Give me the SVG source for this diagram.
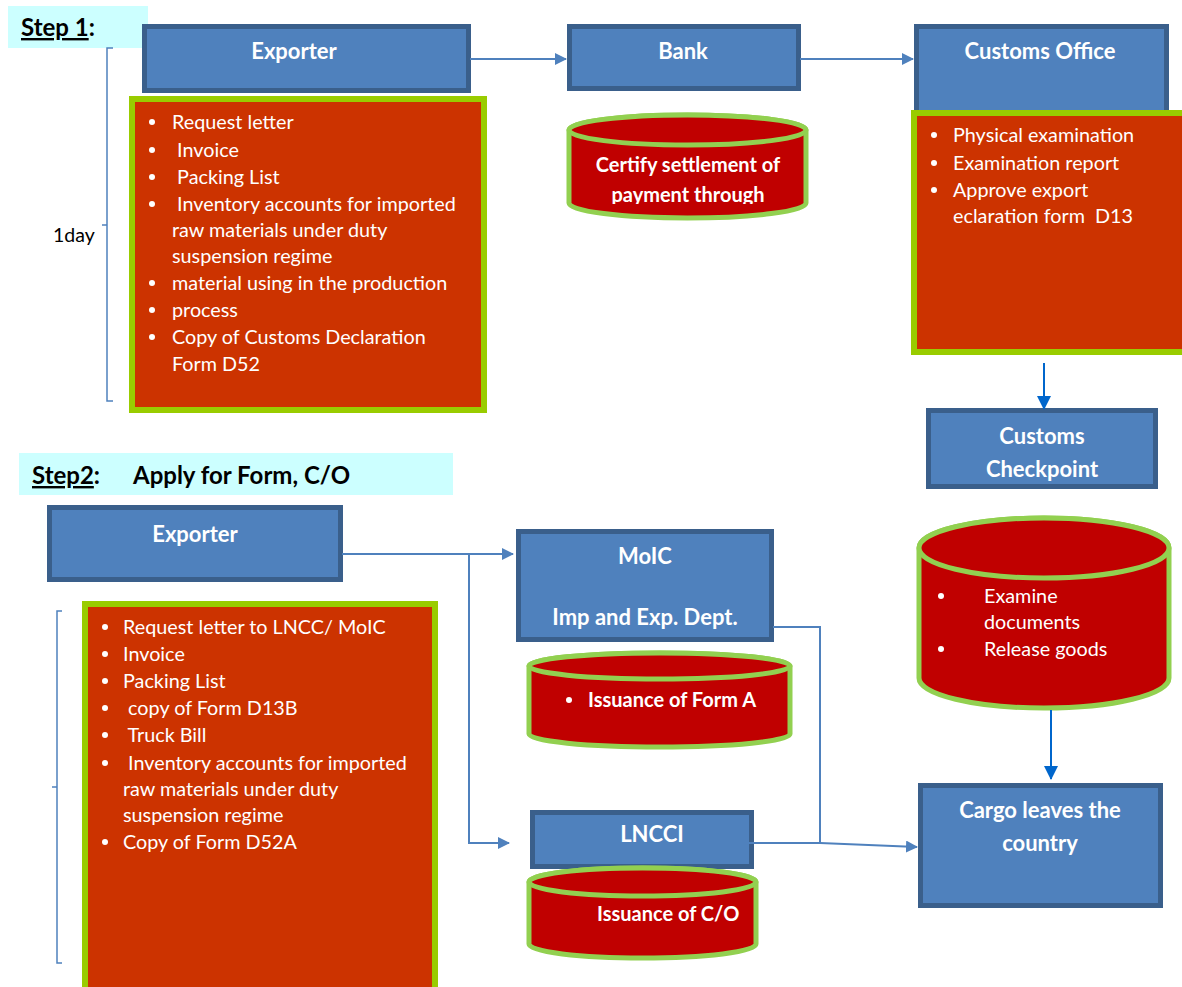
<svg xmlns="http://www.w3.org/2000/svg" width="1182" height="987" viewBox="0 0 1182 987">
<style>
.bx{fill:#4F81BD;stroke:#3A5F8B;stroke-width:5}
.rd{fill:#CC3300;stroke:#99CC00;stroke-width:6}
.cy{fill:#C00000;stroke:#92D050;stroke-width:5}
.hd{font-family:Lato,"Liberation Sans",sans-serif;font-weight:bold;font-size:22px;fill:#fff;text-anchor:middle}
.tx{font-family:Lato,"Liberation Sans",sans-serif;font-size:19.8px;fill:#fff}
.tb{font-family:Lato,"Liberation Sans",sans-serif;font-size:20px;fill:#fff;font-weight:bold}
.st{font-family:Lato,"Liberation Sans",sans-serif;font-size:24px;font-weight:bold;fill:#000}
.lb{font-family:Lato,"Liberation Sans",sans-serif;font-size:19.5px;fill:#000}
.cn{fill:none;stroke:#4F81BD;stroke-width:2}
.cd{fill:none;stroke:#0066CC;stroke-width:2}
.br{fill:none;stroke:#4F81BD;stroke-width:1.5}
</style>
<defs>
<marker id="ah" markerWidth="12" markerHeight="12" refX="11" refY="6" orient="auto" markerUnits="userSpaceOnUse"><path d="M0,0 L12,6 L0,12 Z" fill="#4F81BD"/></marker>
<marker id="ad" markerWidth="14" markerHeight="14" refX="13" refY="7" orient="auto" markerUnits="userSpaceOnUse"><path d="M0,0 L14,7 L0,14 Z" fill="#0066CC"/></marker>
<clipPath id="c1"><rect x="560" y="140" width="260" height="64"/></clipPath>
<clipPath id="c2"><rect x="926" y="410" width="232" height="71"/></clipPath>
</defs>

<g id="step1-label">
<rect x="8" y="6" width="140" height="42" fill="#CCFFFF"/>
<text x="21" y="36" class="st"><tspan text-decoration="underline">Step 1</tspan>:</text>
</g>

<g id="bracket1">
<path class="br" d="M113,48 H107 V401 H113 M107,225 H102"/>
<text x="53" y="242" class="lb">1day</text>
</g>

<g id="exporter1">
<rect class="bx" x="144.5" y="26.5" width="324" height="64"/>
<text x="294" y="59" class="hd">Exporter</text>
</g>

<g id="docs1">
<rect class="rd" x="132" y="99" width="352" height="311"/>
<g class="tx">
<circle cx="152" cy="122" r="3" fill="#fff"/><text x="172" y="129">Request letter</text>
<circle cx="152" cy="150" r="3" fill="#fff"/><text x="172" y="157" xml:space="preserve"> Invoice</text>
<circle cx="152" cy="177" r="3" fill="#fff"/><text x="172" y="184" xml:space="preserve"> Packing List</text>
<circle cx="152" cy="204" r="3" fill="#fff"/><text x="172" y="211" xml:space="preserve"> Inventory accounts for imported</text>
<text x="172" y="237">raw materials under duty</text>
<text x="172" y="263">suspension regime</text>
<circle cx="152" cy="283" r="3" fill="#fff"/><text x="172" y="290">material using in the production</text>
<circle cx="152" cy="310" r="3" fill="#fff"/><text x="172" y="317">process</text>
<circle cx="152" cy="337" r="3" fill="#fff"/><text x="172" y="344">Copy of Customs Declaration</text>
<text x="172" y="371">Form D52</text>
</g>
</g>

<g id="bank">
<rect class="bx" x="569.5" y="26.5" width="229" height="62"/>
<text x="683" y="59" class="hd">Bank</text>
</g>

<g id="bank-cyl">
<path class="cy" d="M569,130 V203 A118.5,15 0 0 0 806,203 V130 A118.5,15 0 0 0 569,130 Z"/>
<ellipse class="cy" cx="687.5" cy="130" rx="118.5" ry="15"/>
<g clip-path="url(#c1)">
<text x="688" y="172" class="tb" text-anchor="middle">Certify settlement of</text>
<text x="688" y="202" class="tb" text-anchor="middle">payment through</text>
</g>
</g>

<g id="customs-office">
<rect class="bx" x="916.5" y="26.5" width="250" height="90"/>
<text x="1040" y="59" class="hd">Customs Office</text>
</g>

<g id="customs-docs">
<rect class="rd" x="914" y="113" width="275" height="239"/>
<g class="tx">
<circle cx="934" cy="135" r="3" fill="#fff"/><text x="953" y="142">Physical examination</text>
<circle cx="934" cy="163" r="3" fill="#fff"/><text x="953" y="170">Examination report</text>
<circle cx="934" cy="190" r="3" fill="#fff"/><text x="953" y="197">Approve export</text>
<text x="953" y="223" xml:space="preserve">eclaration form  D13</text>
</g>
</g>

<g id="customs-checkpoint">
<rect class="bx" x="928.5" y="410.5" width="227" height="76"/>
<g clip-path="url(#c2)">
<text x="1042" y="444" class="hd">Customs</text>
<text x="1042" y="477" class="hd">Checkpoint</text>
</g>
</g>

<g id="examine-cyl">
<path class="cy" d="M919,548 V678 A125,30 0 0 0 1169,678 V548 A125,30 0 0 0 919,548 Z"/>
<ellipse class="cy" cx="1044" cy="548" rx="125" ry="30"/>
<g class="tx">
<circle cx="941" cy="596" r="3" fill="#fff"/><text x="984" y="603">Examine</text>
<text x="984" y="629">documents</text>
<circle cx="941" cy="649" r="3" fill="#fff"/><text x="984" y="656">Release goods</text>
</g>
</g>

<g id="cargo">
<rect class="bx" x="920.5" y="785.5" width="240" height="120"/>
<text x="1040" y="818" class="hd">Cargo leaves the</text>
<text x="1040" y="851" class="hd">country</text>
</g>

<g id="step2-label">
<rect x="19" y="453" width="434" height="42" fill="#CCFFFF"/>
<text x="32" y="484" class="st"><tspan text-decoration="underline">Step2</tspan>:</text>
<text x="133" y="484" class="st">Apply for Form, C/O</text>
</g>

<g id="bracket2">
<path class="br" d="M62,611 H57 V963 H62 M57,787 H52"/>
</g>

<g id="exporter2">
<rect class="bx" x="49.5" y="507.5" width="291" height="72"/>
<text x="195" y="542" class="hd">Exporter</text>
</g>

<g id="docs2">
<rect class="rd" x="85" y="604" width="350" height="390"/>
<g class="tx">
<circle cx="105" cy="627" r="3" fill="#fff"/><text x="123" y="634">Request letter to LNCC/ MoIC</text>
<circle cx="105" cy="654" r="3" fill="#fff"/><text x="123" y="661">Invoice</text>
<circle cx="105" cy="681" r="3" fill="#fff"/><text x="123" y="688">Packing List</text>
<circle cx="105" cy="708" r="3" fill="#fff"/><text x="123" y="715" xml:space="preserve"> copy of Form D13B</text>
<circle cx="105" cy="735" r="3" fill="#fff"/><text x="123" y="742" xml:space="preserve"> Truck Bill</text>
<circle cx="105" cy="763" r="3" fill="#fff"/><text x="123" y="770" xml:space="preserve"> Inventory accounts for imported</text>
<text x="123" y="796">raw materials under duty</text>
<text x="123" y="822">suspension regime</text>
<circle cx="105" cy="842" r="3" fill="#fff"/><text x="123" y="849">Copy of Form D52A</text>
</g>
</g>

<g id="moic">
<rect class="bx" x="518.5" y="531.5" width="253" height="108"/>
<text x="645" y="564" class="hd">MoIC</text>
<text x="645" y="625" class="hd">Imp and Exp. Dept.</text>
</g>

<g id="forma-cyl">
<path class="cy" d="M529,666 V734 A130.5,13 0 0 0 790,734 V666 A130.5,13 0 0 0 529,666 Z"/>
<ellipse class="cy" cx="659.5" cy="666" rx="130.5" ry="13"/>
<circle cx="569" cy="700" r="3" fill="#fff"/>
<text x="588" y="707" class="tb">Issuance of Form A</text>
</g>

<g id="lncci">
<rect class="bx" x="532.5" y="812.5" width="219" height="54"/>
<text x="652" y="842" class="hd">LNCCI</text>
</g>

<g id="co-cyl">
<path class="cy" d="M529,882 V944 A113.5,14 0 0 0 756,944 V882 A113.5,14 0 0 0 529,882 Z"/>
<ellipse class="cy" cx="642.5" cy="882" rx="113.5" ry="14"/>
<text x="597" y="921" class="tb">Issuance of C/O</text>
</g>

<g id="connectors">
<path class="cn" d="M470,59 H566" marker-end="url(#ah)"/>
<path class="cn" d="M800,59 H913" marker-end="url(#ah)"/>
<path class="cd" d="M1044,363 V409" marker-end="url(#ad)"/>
<path class="cd" d="M1051,710 V779" marker-end="url(#ad)"/>
<path class="cn" d="M342,554 H513" marker-end="url(#ah)"/>
<path class="cn" d="M469,554 V843 H509" marker-end="url(#ah)"/>
<path class="cn" d="M773,627 H820 V843"/>
<path class="cn" d="M740,843 H820 L917,847" marker-end="url(#ah)"/>
</g>
</svg>
